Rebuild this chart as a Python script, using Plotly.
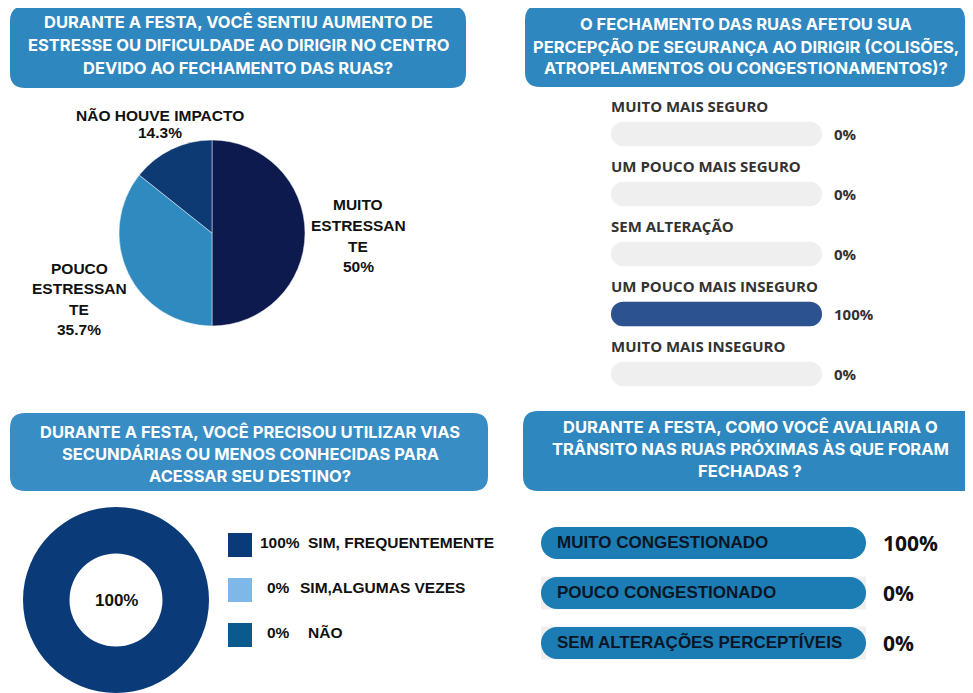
import plotly.graph_objects as go

W, H = 973, 693
OX, OY = 8, 8  # page body margin offset of the plot div

# ---------------- data ----------------
# Q1 (pie)
q1_title = ["DURANTE A FESTA, VOCÊ SENTIU AUMENTO DE",
            "ESTRESSE OU DIFICULDADE AO DIRIGIR NO CENTRO",
            "DEVIDO AO FECHAMENTO DAS RUAS?"]
q1_labels = ["MUITO ESTRESSANTE", "POUCO ESTRESSANTE", "NÃO HOUVE IMPACTO"]
q1_label_lines = [["MUITO", "ESTRESSAN", "TE"], ["POUCO", "ESTRESSAN", "TE"], ["NÃO HOUVE IMPACTO"]]
q1_values = [50.0, 35.7, 14.3]
q1_colors = ["#0D1A4D", "#2F8AC0", "#0D3A73"]

# Q2 (progress bars)
q2_title = ["O FECHAMENTO DAS RUAS AFETOU SUA",
            "PERCEPÇÃO DE SEGURANÇA AO DIRIGIR (COLISÕES,",
            "ATROPELAMENTOS OU CONGESTIONAMENTOS)?"]
q2_labels = ["MUITO MAIS SEGURO", "UM POUCO MAIS SEGURO", "SEM ALTERAÇÃO",
             "UM POUCO MAIS INSEGURO", "MUITO MAIS INSEGURO"]
q2_values = [0, 0, 0, 100, 0]

# Q3 (donut)
q3_title = ["DURANTE A FESTA, VOCÊ PRECISOU UTILIZAR VIAS",
            "SECUNDÁRIAS OU MENOS CONHECIDAS PARA",
            "ACESSAR SEU DESTINO?"]
q3_labels = ["SIM, FREQUENTEMENTE", "SIM,ALGUMAS VEZES", "NÃO"]
q3_values = [100, 0, 0]
q3_colors = ["#0B3A78", "#7DB8E8", "#0B5A8E"]

# Q4 (label bars)
q4_title = ["DURANTE A FESTA, COMO VOCÊ AVALIARIA O",
            "TRÂNSITO NAS RUAS PRÓXIMAS ÀS QUE FORAM",
            "FECHADAS ?"]
q4_labels = ["MUITO CONGESTIONADO", "POUCO CONGESTIONADO", "SEM ALTERAÇÕES PERCEPTÍVEIS"]
q4_values = [100, 0, 0]

SCALE_MAX = 100

HEAVY = "Liberation Sans, Arial, sans-serif"
TITLEF = "Inter, Open Sans, sans-serif"
SEMI = "Open Sans, sans-serif"


def pct(v):
    return f"{v:g}%"


def PX(x):
    return (x - OX) / W


def PY(y):
    return 1 - (y - OY) / H


def P(x, y):
    return PX(x), PY(y)


fig = go.Figure()


def text(x, y, s, size, color="#111111", family=HEAVY, anchor="center", bold=True):
    px, py = P(x, y)
    fig.add_annotation(x=px, y=py, xref="paper", yref="paper",
                       text=f"<b>{s}</b>" if bold else s, showarrow=False,
                       xanchor=anchor, yanchor="middle",
                       font=dict(size=size, color=color, family=family))


def rrect(x0, y0, x1, y1, r, color):
    def pt(x, y):
        a, b = P(x, y)
        return f"{a:.5f},{b:.5f}"
    path = (f"M {pt(x0 + r, y0)} L {pt(x1 - r, y0)} Q {pt(x1, y0)} {pt(x1, y0 + r)} "
            f"L {pt(x1, y1 - r)} Q {pt(x1, y1)} {pt(x1 - r, y1)} "
            f"L {pt(x0 + r, y1)} Q {pt(x0, y1)} {pt(x0, y1 - r)} "
            f"L {pt(x0, y0 + r)} Q {pt(x0, y0)} {pt(x0 + r, y0)} Z")
    fig.add_shape(type="path", path=path, xref="paper", yref="paper",
                  fillcolor=color, line=dict(width=0), layer="below")


def title_box(box, lines, cx, ys, color):
    rrect(*box, 15, color)
    for s, y in zip(lines, ys):
        text(cx, y, s, 16.5, "#FFFFFF", TITLEF)


def pill_bars(rows, lengths, color, width, radius, xa, ya, hover=None):
    """Horizontal bars rounded at both ends (explicit base -> both ends rounded)."""
    fig.add_trace(go.Bar(
        y=rows, x=[L if L else None for L in lengths], base=[0] * len(rows),
        orientation="h", width=width,
        marker=dict(color=color, cornerradius=radius, line=dict(width=0)),
        xaxis=xa, yaxis=ya,
        hovertext=hover, hoverinfo="text" if hover else "skip"))


# ---------------- title boxes ----------------
title_box((10, 6, 466, 88), q1_title, 238, [22, 45, 68], "#2F87BF")
title_box((525, 5, 965, 87), q2_title, 746, [24, 47, 68], "#2F87BF")
title_box((10, 413, 488, 491), q3_title, 250, [432, 454, 476], "#378DC4")
title_box((523, 411, 990, 491), q4_title, 750, [427, 449, 471], "#2F87BF")

# ---------------- Q1 pie ----------------
fig.add_trace(go.Pie(labels=q1_labels, values=q1_values, sort=False,
                     direction="clockwise", rotation=0,
                     marker=dict(colors=q1_colors, line=dict(color="rgba(255,255,255,0.6)", width=0.8)),
                     textinfo="none", hoverinfo="label+percent",
                     domain=dict(x=[PX(119), PX(305)], y=[PY(326), PY(140)])))

label_pos = [(358, 205), (79, 268), (160, 115)]
for lines, v, (lx, ly) in zip(q1_label_lines, q1_values, label_pos):
    step = 20.5 if len(lines) > 1 else 17
    for k, s in enumerate(lines + [pct(v)]):
        text(lx, ly + k * step, s, 15.5)

# ---------------- Q2 progress bars ----------------
n2 = len(q2_labels)
rows2 = list(range(n2))
pill_bars(rows2, [SCALE_MAX] * n2, "#EFEFEF", 0.41, 12, "x", "y")
pill_bars(rows2, q2_values, "#2C5290", 0.41, 12, "x", "y", hover=q2_labels)
for i, (lab, v) in enumerate(zip(q2_labels, q2_values)):
    fig.add_annotation(x=0, y=i - 0.462, xref="x", yref="y", text=f"<b>{lab}</b>",
                       showarrow=False, xanchor="left", yanchor="middle", xshift=-2,
                       font=dict(size=15, color="#333333", family=SEMI))
    fig.add_annotation(x=SCALE_MAX, y=i, xref="x", yref="y", text=f"<b>{pct(v)}</b>",
                       showarrow=False, xanchor="left", yanchor="middle", xshift=10,
                       font=dict(size=15, color="#333333", family=SEMI))

# ---------------- Q3 donut ----------------
fig.add_trace(go.Pie(labels=q3_labels, values=q3_values, sort=False, hole=0.5,
                     direction="clockwise",
                     marker=dict(colors=q3_colors, line=dict(width=0)),
                     textinfo="none", hoverinfo="label+percent",
                     domain=dict(x=[PX(23), PX(209)], y=[max(0, PY(693)), PY(507)])))
text(116, 600, pct(q3_values[0]), 17)

leg_y = [545, 590, 635]
leg_pct_x = [258, 265, 265]
leg_lab_x = [306, 298, 306]
for c, lab, v, ly, px_, lx in zip(q3_colors, q3_labels, q3_values, leg_y, leg_pct_x, leg_lab_x):
    fig.add_shape(type="rect", x0=PX(228), x1=PX(252), y0=PY(ly + 12), y1=PY(ly - 12),
                  xref="paper", yref="paper", fillcolor=c, line=dict(width=0))
    text(px_, ly - 3, pct(v), 15.5, anchor="left")
    text(lx, ly - 3, lab, 15.5, anchor="left")

# ---------------- Q4 label bars ----------------
n4 = len(q4_labels)
rows4 = list(range(n4))
TRACK_EXT = 114.5
fig.add_trace(go.Bar(y=rows4, x=[TRACK_EXT if v == 0 else None for v in q4_values],
                     orientation="h", width=0.66,
                     marker=dict(color="#EFEFEF", line=dict(width=0)),
                     xaxis="x2", yaxis="y2", hoverinfo="skip"))
pill_bars(rows4, [SCALE_MAX] * n4, "#1B7DB3", 0.64, 16, "x2", "y2", hover=q4_labels)
for i, (lab, v) in enumerate(zip(q4_labels, q4_values)):
    fig.add_annotation(x=0, y=i, xref="x2", yref="y2", text=f"<b>{lab}</b>",
                       showarrow=False, xanchor="left", yanchor="middle", xshift=14, yshift=1,
                       font=dict(size=17, color="#0A1626", family=HEAVY))
    fig.add_annotation(x=SCALE_MAX, y=i, xref="x2", yref="y2", text=f"<b>{pct(v)}</b>",
                       showarrow=False, xanchor="left", yanchor="middle", xshift=15,
                       font=dict(size=21, color="#111111", family=SEMI))

ax = dict(visible=False, showgrid=False, zeroline=False, fixedrange=True)
fig.update_layout(
    width=W, height=H, margin=dict(l=0, r=0, t=0, b=0),
    paper_bgcolor="white", plot_bgcolor="rgba(0,0,0,0)",
    showlegend=False, barmode="overlay",
    xaxis=dict(domain=[PX(611), PX(822)], range=[0, SCALE_MAX], **ax),
    yaxis=dict(domain=[PY(404), PY(104)], range=[n2 - 0.5, -0.5], **ax),
    xaxis2=dict(domain=[PX(541), PX(866)], range=[0, SCALE_MAX], anchor="y2", **ax),
    yaxis2=dict(domain=[PY(668), PY(518)], range=[n4 - 0.5, -0.5], anchor="x2", **ax),
)

fig.write_html("out.html")
